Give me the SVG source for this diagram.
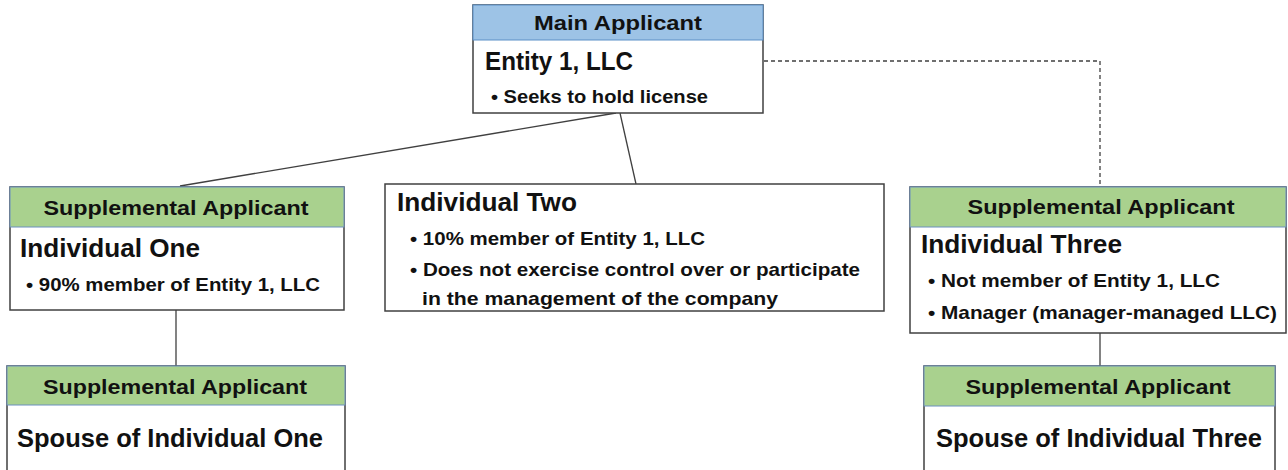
<svg xmlns="http://www.w3.org/2000/svg" width="1288" height="470" viewBox="0 0 1288 470">
<style>
.box{fill:#fff;stroke:#404040;stroke-width:1.5}
.hb{fill:#9DC3E6;stroke:#5B8FC7;stroke-width:1}
.hg{fill:#A9D18E;stroke:#6A8FC0;stroke-width:1}
text{font-family:"Liberation Sans",Arial,sans-serif;font-weight:bold;fill:#111}
.h{font-size:21px;text-anchor:middle}
.t{font-size:25px}
.b{font-size:18.5px}
.c{stroke:#404040;stroke-width:1.3;fill:none}
.d{stroke:#404040;stroke-width:1.3;fill:none;stroke-dasharray:4 3}
</style>
<rect width="1288" height="470" fill="#fff"/>
<g id="connectors">
<line class="c" x1="616" y1="113" x2="180" y2="186"/>
<line class="c" x1="620" y1="113" x2="636" y2="184"/>
<polyline class="d" points="764,61 1100,61 1100,187"/>
<line class="c" x1="176" y1="310" x2="176" y2="366"/>
<line class="c" x1="1100" y1="333" x2="1100" y2="366"/>
</g>
<g id="main">
<rect class="box" x="473" y="5" width="290" height="108"/>
<rect class="hb" x="473" y="5" width="290" height="35"/>
<text class="h" x="618" y="30" textLength="168" lengthAdjust="spacingAndGlyphs">Main Applicant</text>
<text class="t" x="485" y="70" textLength="148" lengthAdjust="spacingAndGlyphs">Entity 1, LLC</text>
<text class="b" x="491" y="103" textLength="217" lengthAdjust="spacingAndGlyphs">• Seeks to hold license</text>
</g>
<g id="ind1">
<rect class="box" x="10" y="187" width="334" height="123"/>
<rect class="hg" x="10" y="187" width="334" height="40"/>
<text class="h" x="176" y="215" textLength="265" lengthAdjust="spacingAndGlyphs">Supplemental Applicant</text>
<text class="t" x="20" y="257" textLength="180" lengthAdjust="spacingAndGlyphs">Individual One</text>
<text class="b" x="26" y="291" textLength="294" lengthAdjust="spacingAndGlyphs">• 90% member of Entity 1, LLC</text>
</g>
<g id="ind2">
<rect class="box" x="385" y="184" width="499" height="127"/>
<text class="t" x="397" y="211" textLength="180" lengthAdjust="spacingAndGlyphs">Individual Two</text>
<text class="b" x="410" y="245" textLength="295" lengthAdjust="spacingAndGlyphs">• 10% member of Entity 1, LLC</text>
<text class="b" x="410" y="276" textLength="450" lengthAdjust="spacingAndGlyphs">• Does not exercise control over or participate</text>
<text class="b" x="422" y="305" textLength="356" lengthAdjust="spacingAndGlyphs">in the management of the company</text>
</g>
<g id="ind3">
<rect class="box" x="910" y="187" width="376" height="146"/>
<rect class="hg" x="910" y="187" width="376" height="40"/>
<text class="h" x="1101" y="214" textLength="267" lengthAdjust="spacingAndGlyphs">Supplemental Applicant</text>
<text class="t" x="921" y="253" textLength="201" lengthAdjust="spacingAndGlyphs">Individual Three</text>
<text class="b" x="928" y="287" textLength="292" lengthAdjust="spacingAndGlyphs">• Not member of Entity 1, LLC</text>
<text class="b" x="928" y="319" textLength="349" lengthAdjust="spacingAndGlyphs">• Manager (manager-managed LLC)</text>
</g>
<g id="spouse1">
<rect class="box" x="7" y="366" width="338" height="110"/>
<rect class="hg" x="7" y="366" width="338" height="39"/>
<text class="h" x="175" y="394" textLength="264" lengthAdjust="spacingAndGlyphs">Supplemental Applicant</text>
<text class="t" x="17" y="447" textLength="306" lengthAdjust="spacingAndGlyphs">Spouse of Individual One</text>
</g>
<g id="spouse3">
<rect class="box" x="924" y="366" width="351" height="110"/>
<rect class="hg" x="924" y="366" width="351" height="40"/>
<text class="h" x="1098" y="394" textLength="265" lengthAdjust="spacingAndGlyphs">Supplemental Applicant</text>
<text class="t" x="936" y="447" textLength="326" lengthAdjust="spacingAndGlyphs">Spouse of Individual Three</text>
</g>
</svg>
